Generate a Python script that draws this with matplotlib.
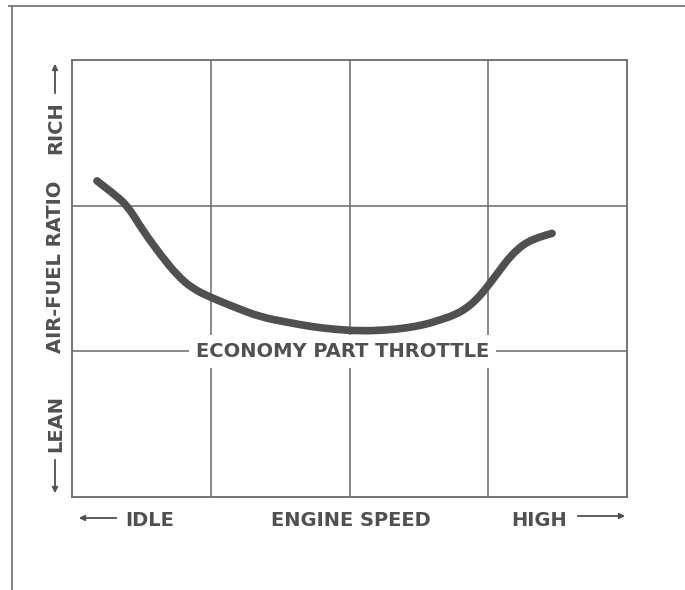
import matplotlib
matplotlib.use("Agg")
import matplotlib.pyplot as plt
from matplotlib.lines import Line2D
from matplotlib.patches import FancyArrowPatch, PathPatch
from matplotlib.path import Path

# Curve: air-fuel mixture vs engine speed (grid units: 4 speed columns, 3 ratio rows)
speed = [0.18, 0.29, 0.40, 0.51, 0.64, 0.76, 0.87, 1.00, 1.18, 1.36,
         1.55, 1.72, 1.90, 2.08, 2.25, 2.41, 2.55, 2.65, 2.76, 2.85,
         2.93, 2.99, 3.07, 3.14, 3.21, 3.28, 3.37, 3.46]
ratio = [2.17, 2.09, 2.00, 1.83, 1.66, 1.52, 1.43, 1.37, 1.30, 1.235,
         1.20, 1.17, 1.15, 1.14, 1.145, 1.16, 1.185, 1.215, 1.25, 1.30,
         1.37, 1.44, 1.54, 1.63, 1.70, 1.75, 1.785, 1.81]

curve_label = "ECONOMY PART THROTTLE"
x_labels = ["IDLE", "ENGINE SPEED", "HIGH"]
y_labels = ["LEAN", "AIR-FUEL RATIO", "RICH"]

ink = "#505050"
grid_col = "#6a6a6a"
plt.rcParams["font.family"] = ["DejaVu Sans"]
FS = 14
FW = "bold"

W, H = 685, 590
fig = plt.figure(figsize=(W / 100, H / 100), dpi=100)
fig.patch.set_facecolor("white")

def fx(px):
    return px / W

def fy(py):
    return 1 - py / H

ax = fig.add_axes([fx(72), fy(497), fx(627) - fx(72), fy(60) - fy(497)])
ax.set_xlim(0, 4)
ax.set_ylim(0, 3)
ax.set_xticks([1, 2, 3])
ax.set_yticks([1, 2])
ax.tick_params(length=0, labelbottom=False, labelleft=False)
ax.grid(True, color=grid_col, linewidth=1.1)
for s in ax.spines.values():
    s.set_color(grid_col)
    s.set_linewidth(1.3)

# smooth stroke through the read points (quadratic segments between midpoints)
pts = list(zip(speed, ratio))
verts = [pts[0]]
codes = [Path.MOVETO]
for i in range(1, len(pts) - 1):
    mid = ((pts[i][0] + pts[i + 1][0]) / 2, (pts[i][1] + pts[i + 1][1]) / 2)
    verts += [pts[i], mid]
    codes += [Path.CURVE3, Path.CURVE3]
verts.append(pts[-1])
codes.append(Path.LINETO)
ax.add_patch(PathPatch(Path(verts, codes), facecolor="none", edgecolor=ink,
                       linewidth=5.5, capstyle="round", joinstyle="round", zorder=3))

ax.text(1.95, 1, curve_label, ha="center", va="center", fontsize=FS,
        fontweight=FW, color=ink, zorder=4,
        bbox=dict(facecolor="white", edgecolor="none", pad=5))

# outer frame
fig.add_artist(Line2D([fx(9), 1], [fy(6), fy(6)], color="#777777", linewidth=1.3))
fig.add_artist(Line2D([fx(12), fx(12)], [fy(6), 0], color="#777777", linewidth=1.3))

# horizontal axis labels with arrows
ty = fy(520)
fig.text(fx(125), ty, x_labels[0], ha="left", va="center", fontsize=FS, fontweight=FW, color=ink)
fig.text(fx(351), ty, x_labels[1], ha="center", va="center", fontsize=FS, fontweight=FW, color=ink)
fig.text(fx(567), ty, x_labels[2], ha="right", va="center", fontsize=FS, fontweight=FW, color=ink)
arrow = dict(arrowstyle="-|>", color=ink, lw=1.3, mutation_scale=8)
fig.add_artist(FancyArrowPatch((fx(119), fy(518)), (fx(76), fy(518)),
               transform=fig.transFigure, **arrow))
fig.add_artist(FancyArrowPatch((fx(575), fy(516)), (fx(628), fy(516)),
               transform=fig.transFigure, **arrow))

# vertical axis labels with arrows
tx = fx(56)
fig.text(tx, fy(452), y_labels[0], ha="center", va="bottom", rotation=90, fontsize=FS, fontweight=FW, color=ink)
fig.text(tx, fy(267), y_labels[1], ha="center", va="center", rotation=90, fontsize=FS, fontweight=FW, color=ink)
fig.text(tx, fy(101), y_labels[2], ha="center", va="top", rotation=90, fontsize=FS, fontweight=FW, color=ink)
fig.add_artist(FancyArrowPatch((fx(55), fy(457)), (fx(55), fy(496)),
               transform=fig.transFigure, **arrow))
fig.add_artist(FancyArrowPatch((fx(55), fy(96)), (fx(55), fy(61)),
               transform=fig.transFigure, **arrow))

fig.savefig("out.png", dpi=100, facecolor="white")
